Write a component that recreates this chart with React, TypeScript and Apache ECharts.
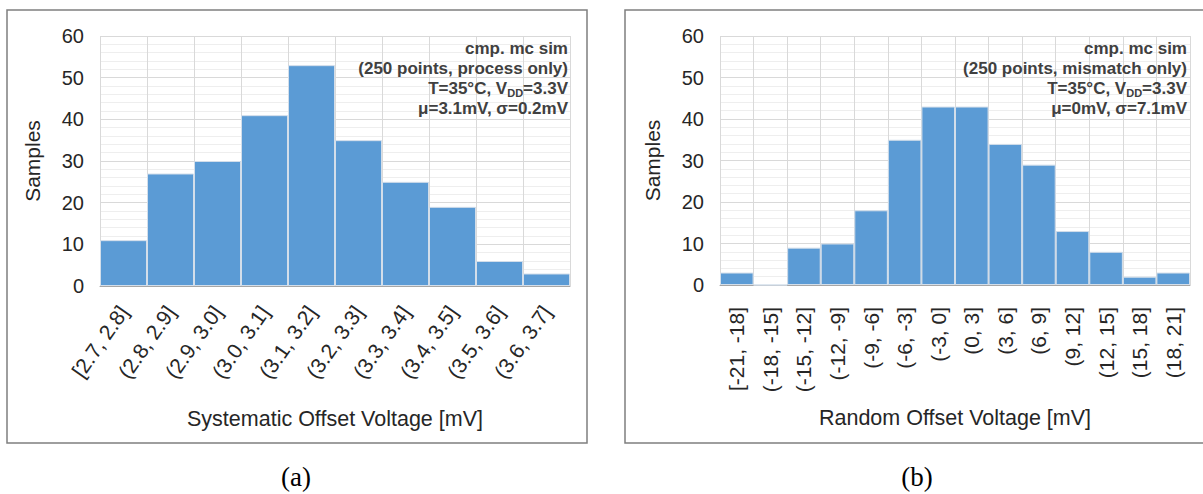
import React, { useEffect, useRef } from "react";
import * as echarts from "echarts";

const catsA = ["[2.7, 2.8]", "(2.8, 2.9]", "(2.9, 3.0]", "(3.0, 3.1]", "(3.1, 3.2]", "(3.2, 3.3]", "(3.3, 3.4]", "(3.4, 3.5]", "(3.5, 3.6]", "(3.6, 3.7]"];
const valsA = [11, 27, 30, 41, 53, 35, 25, 19, 6, 3];

const catsB = ["[-21, -18]", "(-18, -15]", "(-15, -12]", "(-12, -9]", "(-9, -6]", "(-6, -3]", "(-3, 0]", "(0, 3]", "(3, 6]", "(6, 9]", "(9, 12]", "(12, 15]", "(15, 18]", "(18, 21]"];
const valsB = [3, 0, 9, 10, 18, 35, 43, 43, 34, 29, 13, 8, 2, 3];

const yMin = 0;
const yMax = 60;
const yStep = 10;

const nameA = "Systematic Offset Voltage [mV]";
const nameB = "Random Offset Voltage [mV]";
const yName = "Samples";

const notesA = ["cmp. mc sim", "(250 points, process only)", "T=35°C, V", "DD", "=3.3V", "μ=3.1mV, σ=0.2mV"];
const notesB = ["cmp. mc sim", "(250 points, mismatch only)", "T=35°C, V", "DD", "=3.3V", "μ=0mV, σ=7.1mV"];

const captions = ["(a)", "(b)"];

const SANS = "'Liberation Sans', Arial, sans-serif";
const SERIF = "'Liberation Serif', 'Times New Roman', serif";
const TXT = "#262626";

function noteText(n: string[]) {
  return `{b|${n[0]}}\n{b|${n[1]}}\n{b|${n[2]}}{s|${n[3]}}{b|${n[4]}}\n{b|${n[5]}}`;
}

const noteRich = {
  b: { fontSize: 17, fontWeight: "bold", fontFamily: SANS, fill: "#404040", color: "#404040", lineHeight: 20 },
  s: { fontSize: 11, fontWeight: "bold", fontFamily: SANS, fill: "#404040", color: "#404040", lineHeight: 20, verticalAlign: "bottom" },
};

export default function App() {
  const ref = useRef<HTMLDivElement>(null);
  useEffect(() => {
    if (!ref.current) return;
    const chart = echarts.init(ref.current, undefined, { renderer: "svg" });

    const xAxisBase = (gi: number, data: string[], name: string, label: any) => ({
      gridIndex: gi,
      type: "category",
      data,
      axisTick: { show: false },
      axisLine: { lineStyle: { color: "#a6a6a6", width: 1 } },
      splitLine: { show: true, lineStyle: { color: "#d9d9d9", width: 1 } },
      axisLabel: { interval: 0, fontSize: 21, color: TXT, fontFamily: SANS, ...label },
      name,
      nameLocation: "middle",
      nameGap: 122,
      nameTextStyle: { fontSize: 21.5, color: TXT, fontFamily: SANS },
    });

    const yAxisBase = (gi: number) => ({
      gridIndex: gi,
      type: "value",
      min: yMin,
      max: yMax,
      interval: yStep,
      axisLine: { show: false },
      axisTick: { show: false },
      axisLabel: { margin: 16, fontSize: 20, color: TXT, fontFamily: SANS },
      splitLine: { lineStyle: { color: "#d9d9d9", width: 1 } },
      minorTick: { show: false, splitNumber: 5 },
      minorSplitLine: { show: true, lineStyle: { color: "#eeeeee", width: 1 } },
      name: yName,
      nameLocation: "middle",
      nameGap: 57,
      nameTextStyle: { fontSize: 21, color: TXT, fontFamily: SANS },
    });

    const barSeries = (gi: number, data: number[]) => ({
      type: "bar",
      xAxisIndex: gi,
      yAxisIndex: gi,
      data,
      barCategoryGap: "0%",
      itemStyle: { color: "#5b9bd5", borderColor: "#d3deea", borderWidth: 1 },
    });

    chart.setOption({
      animation: false,
      backgroundColor: "#ffffff",
      grid: [
        { left: 100, top: 36, width: 470, height: 250 },
        { left: 720, top: 36, width: 470, height: 249 },
      ],
      xAxis: [
        xAxisBase(0, catsA, nameA, { rotate: 55, margin: 22, padding: [46, 0, 0, 0] }),
        xAxisBase(1, catsB, nameB, { rotate: 90, margin: 22 }),
      ],
      yAxis: [yAxisBase(0), yAxisBase(1)],
      series: [barSeries(0, valsA), barSeries(1, valsB)],
      graphic: [
        { type: "rect", shape: { x: 7, y: 10, width: 580, height: 433 }, style: { fill: "none", stroke: "#7f7f7f", lineWidth: 1.5 }, silent: true },
        { type: "rect", shape: { x: 625, y: 10, width: 590, height: 433 }, style: { fill: "none", stroke: "#7f7f7f", lineWidth: 1.5 }, silent: true },
        { type: "text", x: 568, y: 38, style: { text: noteText(notesA), rich: noteRich, align: "right", verticalAlign: "top", fill: "#404040" }, z: 10 },
        { type: "text", x: 1187, y: 38, style: { text: noteText(notesB), rich: noteRich, align: "right", verticalAlign: "top", fill: "#404040" }, z: 10 },
        { type: "text", x: 296, y: 477, style: { text: captions[0], fontSize: 27, fontFamily: SERIF, fill: "#000", align: "center", verticalAlign: "middle" } },
        { type: "text", x: 917, y: 477, style: { text: captions[1], fontSize: 27, fontFamily: SERIF, fill: "#000", align: "center", verticalAlign: "middle" } },
      ],
    });
    return () => chart.dispose();
  }, []);
  return <div ref={ref} style={{ position: "fixed", left: 0, top: 0, width: 1203, height: 494 }} />;
}
